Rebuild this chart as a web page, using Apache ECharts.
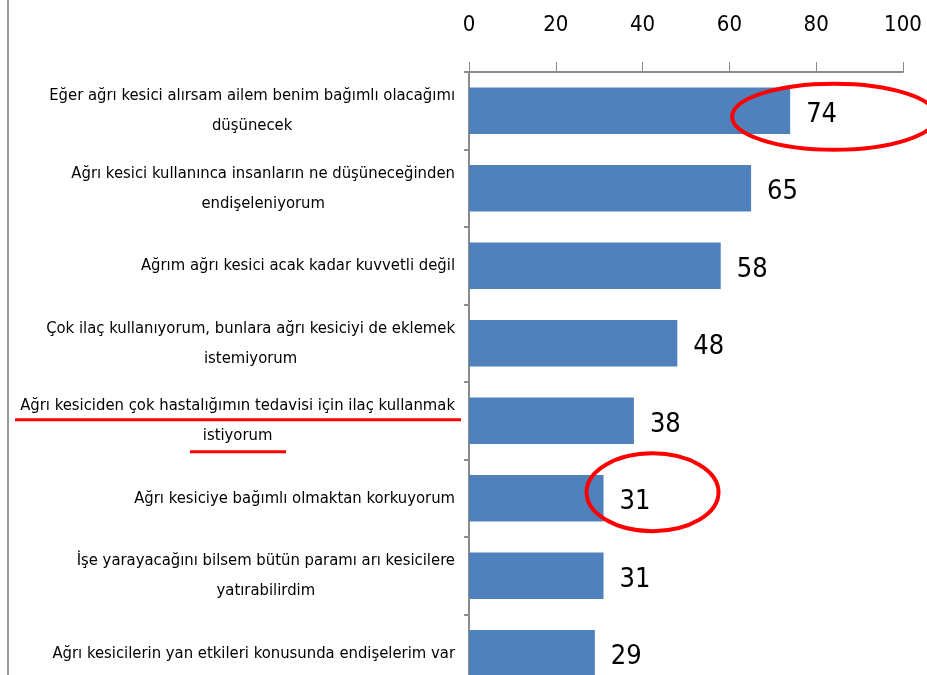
<!DOCTYPE html>
<html>
<head>
<meta charset="utf-8">
<script src="https://cdn.jsdelivr.net/npm/echarts@6/dist/echarts.min.js"></script>
<style>
  html, body { margin: 0; padding: 0; background: #fff; }
  #chart { width: 927px; height: 675px; }
</style>
</head>
<body>
<div id="chart"></div>
<script>
// Survey statements (top to bottom) and percentages
const categories = [
  'Eğer ağrı kesici alırsam ailem benim bağımlı olacağımı\ndüşünecek',
  'Ağrı kesici kullanınca insanların ne düşüneceğinden\nendişeleniyorum',
  'Ağrım ağrı kesici acak kadar kuvvetli değil',
  'Çok ilaç kullanıyorum, bunlara ağrı kesiciyi de eklemek\nistemiyorum',
  'Ağrı kesiciden çok hastalığımın tedavisi için ilaç kullanmak\nistiyorum',
  'Ağrı kesiciye bağımlı olmaktan korkuyorum',
  'İşe yarayacağını bilsem bütün paramı arı kesicilere\nyatırabilirdim',
  'Ağrı kesicilerin yan etkileri konusunda endişelerim var'
]
const values = [74, 65, 58, 48, 38, 31, 31, 29]
const xTicks = [0, 20, 40, 60, 80, 100]

// which bars get a red circle around their value
const circled = [0, 5]

const FONT = '"Liberation Sans Narrow", "DejaVu Sans Condensed", sans-serif'
const AXIS_GREY = '#8c8c8c'

const chart = echarts.init(document.getElementById('chart'))

const option = {
  animation: false,
  grid: {
    left: 469,
    top: 72,
    width: 434,
    height: 620,
    containLabel: false,
    outerBoundsMode: 'none'
  },
  xAxis: {
    type: 'value',
    position: 'top',
    min: xTicks[0],
    max: xTicks[xTicks.length - 1],
    interval: 20,
    axisLine: { show: true, lineStyle: { color: AXIS_GREY, width: 2 } },
    axisTick: { show: true, length: 10, lineStyle: { color: AXIS_GREY, width: 1 } },
    splitLine: { show: false },
    axisLabel: {
      margin: 36,
      color: '#000',
      fontSize: 22,
      fontFamily: FONT
    }
  },
  yAxis: {
    type: 'category',
    inverse: true,
    data: categories,
    axisLine: { show: true, lineStyle: { color: AXIS_GREY, width: 2 } },
    axisTick: { show: true, length: 5, lineStyle: { color: AXIS_GREY, width: 2 } },
    axisLabel: {
      margin: 14,
      align: 'right',
      formatter: (v) => v.split('\n').map(l => '{c|' + l + '}').join('\n'),
      rich: {
        c: {
          align: 'center',
          color: '#000',
          fontSize: 16.5,
          lineHeight: 30,
          fontFamily: FONT
        }
      }
    }
  },
  series: [
    {
      type: 'bar',
      data: values,
      barCategoryGap: '40%',
      itemStyle: { color: '#4f81bd' },
      label: {
        show: true,
        position: 'right',
        distance: 16,
        offset: [0, 4],
        color: '#000',
        fontSize: 27,
        fontFamily: FONT
      }
    }
  ]
}

chart.setOption(option)

// Red hand-drawn style annotations, placed relative to the bars they mark
const ellipseSize = { 0: [102, 33], 5: [66, 39] }
const ellipseOffset = { 0: [44, 6], 5: [49, -6] }
const annotations = [
  // left chart frame
  {
    type: 'line',
    shape: { x1: 8, y1: 0, x2: 8, y2: 675 },
    style: { stroke: '#9a9a9a', lineWidth: 2 }
  }
]
circled.forEach(i => {
  const p = chart.convertToPixel({ seriesIndex: 0 }, [values[i], i])
  annotations.push({
    type: 'ellipse',
    shape: {
      cx: p[0] + ellipseOffset[i][0],
      cy: p[1] + ellipseOffset[i][1],
      rx: ellipseSize[i][0],
      ry: ellipseSize[i][1]
    },
    style: { fill: 'none', stroke: '#ff0000', lineWidth: 4 },
    z: 100
  })
})
// underline of the 5th statement
const u = chart.convertToPixel({ yAxisIndex: 0 }, 4)
annotations.push(
  {
    type: 'line',
    shape: { x1: 15, y1: u - 1, x2: 461, y2: u - 1 },
    style: { stroke: '#ff0000', lineWidth: 3 },
    z: 100
  },
  {
    type: 'line',
    shape: { x1: 190, y1: u + 31, x2: 286, y2: u + 31 },
    style: { stroke: '#ff0000', lineWidth: 3 },
    z: 100
  }
)
chart.setOption({ graphic: annotations })
</script>
</body>
</html>
